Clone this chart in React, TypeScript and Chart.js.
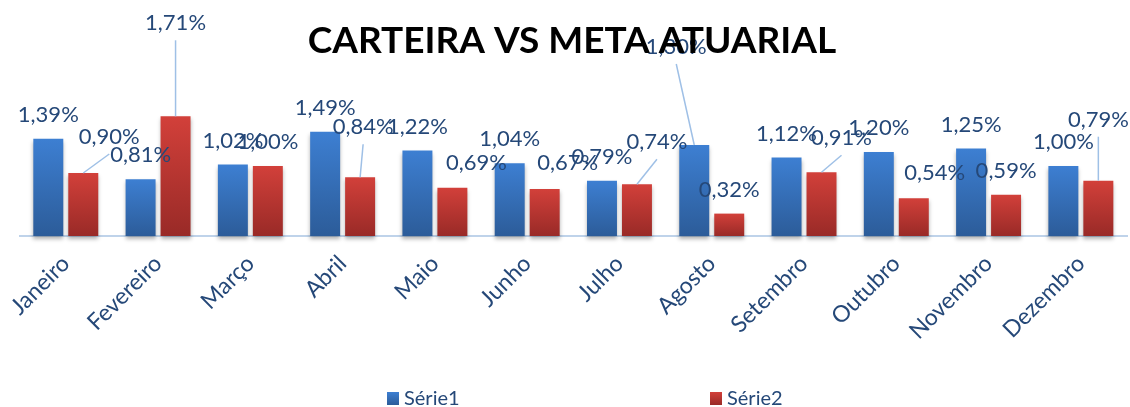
import React, { useEffect, useRef } from "react";
import { Chart, registerables } from "chart.js";

Chart.register(...registerables);

// ---- data ----
const categories = [
  "Janeiro", "Fevereiro", "Março", "Abril", "Maio", "Junho",
  "Julho", "Agosto", "Setembro", "Outubro", "Novembro", "Dezembro",
];
const serie1 = [1.39, 0.81, 1.02, 1.49, 1.22, 1.04, 0.79, 1.30, 1.12, 1.20, 1.25, 1.00];
const serie2 = [0.90, 1.71, 1.00, 0.84, 0.69, 0.67, 0.74, 0.32, 0.91, 0.54, 0.59, 0.79];
const seriesNames = ["Série1", "Série2"];
const titleText = "CARTEIRA VS META ATUARIAL";

// ---- label layout (offset of label centre from bar top, leader line flag) ----
type LabelPos = { dx: number; dy: number; leader: boolean };
const D: LabelPos = { dx: 0, dy: -24, leader: false };
const labelLayout1: LabelPos[] = [
  D, D, D, D, D, D, D, { dx: -18, dy: -98, leader: true }, D, D, D, D,
];
const labelLayout2: LabelPos[] = [
  { dx: 26, dy: -36, leader: true },
  { dx: 0, dy: -93, leader: true },
  D,
  { dx: 3, dy: -50, leader: true },
  { dx: 24, dy: -25, leader: false },
  { dx: 23, dy: -26, leader: false },
  { dx: 20, dy: -42, leader: true },
  D,
  { dx: 20, dy: -34, leader: true },
  { dx: 21, dy: -25, leader: false },
  D,
  { dx: 0, dy: -61, leader: true },
];

const FONT = "Lato, 'Open Sans', sans-serif";
const TEXT_COLOR = "#254878";
const BLUE = ["#3d7fd2", "#2c5c99"];
const RED = ["#d2403a", "#992a27"];

const fmt = (v: number) => v.toFixed(2).replace(".", ",") + "%";

function barGradient(colors: string[]) {
  return (c: any) => {
    const chart = c.chart;
    if (!chart.chartArea || c.type !== "data") return colors[0];
    const y = chart.scales.y;
    const yTop = y.getPixelForValue(c.raw);
    const yBot = y.getPixelForValue(0);
    if (!isFinite(yTop) || !isFinite(yBot) || yTop === yBot) return colors[0];
    const g = chart.ctx.createLinearGradient(0, yTop, 0, yBot);
    g.addColorStop(0, colors[0]);
    g.addColorStop(1, colors[1]);
    return g;
  };
}

const overlayPlugin = {
  id: "overlay",
  beforeDatasetsDraw(chart: any) {
    const ctx = chart.ctx;
    ctx.save();
    ctx.shadowColor = "rgba(0,0,0,0.30)";
    ctx.shadowBlur = 4;
    ctx.shadowOffsetY = 3;
  },
  afterDatasetsDraw(chart: any) {
    const ctx = chart.ctx;
    ctx.restore();
    const layouts = [labelLayout1, labelLayout2];
    chart.data.datasets.forEach((ds: any, di: number) => {
      const meta = chart.getDatasetMeta(di);
      meta.data.forEach((bar: any, i: number) => {
        const pos = layouts[di][i];
        const lx = bar.x + pos.dx;
        const ly = bar.y + pos.dy;
        if (pos.leader) {
          ctx.save();
          ctx.strokeStyle = "#9fc0e6";
          ctx.lineWidth = 1.5;
          ctx.beginPath();
          ctx.moveTo(bar.x, bar.y);
          ctx.lineTo(lx, ly + 17);
          ctx.stroke();
          ctx.restore();
        }
        ctx.save();
        ctx.font = `22px ${FONT}`;
        ctx.fillStyle = TEXT_COLOR;
        ctx.textAlign = "center";
        ctx.textBaseline = "middle";
        ctx.fillText(fmt(ds.data[i]), lx, ly);
        ctx.restore();
      });
    });
  },
  afterDraw(chart: any) {
    const ctx = chart.ctx;
    // title
    ctx.save();
    ctx.font = `bold 37px ${FONT}`;
    ctx.fillStyle = "#000000";
    ctx.textAlign = "center";
    ctx.textBaseline = "alphabetic";
    ctx.fillText(titleText, 572, 53);
    ctx.restore();
    // legend
    const items = [
      { x: 387, colors: BLUE, name: seriesNames[0] },
      { x: 710, colors: RED, name: seriesNames[1] },
    ];
    items.forEach((it) => {
      ctx.save();
      const g = ctx.createLinearGradient(0, 392, 0, 405);
      g.addColorStop(0, it.colors[0]);
      g.addColorStop(1, it.colors[1]);
      ctx.fillStyle = g;
      ctx.fillRect(it.x, 392, 12, 13);
      ctx.font = `20px ${FONT}`;
      ctx.fillStyle = TEXT_COLOR;
      ctx.textAlign = "left";
      ctx.textBaseline = "middle";
      ctx.fillText(it.name, it.x + 17, 399);
      ctx.restore();
    });
  },
};

export default function App() {
  const ref = useRef<HTMLCanvasElement | null>(null);
  useEffect(() => {
    document.body.style.margin = "0";
    if (!ref.current) return;
    const chart = new Chart(ref.current, {
      type: "bar",
      data: {
        labels: categories,
        datasets: [
          {
            label: seriesNames[0],
            data: serie1,
            backgroundColor: barGradient(BLUE),
            clip: false,
          } as any,
          {
            label: seriesNames[1],
            data: serie2,
            backgroundColor: barGradient(RED),
            clip: false,
          } as any,
        ],
      },
      options: {
        animation: false,
        responsive: false,
        devicePixelRatio: 1,
        categoryPercentage: 0.758,
        barPercentage: 0.857,
        layout: { padding: { top: 26, left: 19, right: 3, bottom: 0 } },
        plugins: {
          legend: { display: false },
          title: { display: false },
          tooltip: { enabled: false },
        },
        scales: {
          x: {
            grid: { display: false, drawTicks: false },
            border: { color: "#bfd3ea", width: 2 },
            ticks: {
              color: TEXT_COLOR,
              font: { family: FONT, size: 23 },
              minRotation: 45,
              maxRotation: 45,
              padding: 14,
              autoSkip: false,
            },
            afterFit: (scale: any) => {
              scale.height = 171;
            },
          },
          y: { display: false, min: 0, max: 3 },
        },
      },
      plugins: [overlayPlugin],
    });
    return () => chart.destroy();
  }, []);
  return (
    <div style={{ position: "absolute", left: 0, top: 0, width: 1130, height: 407 }}>
      <canvas ref={ref} width={1130} height={407} />
    </div>
  );
}
